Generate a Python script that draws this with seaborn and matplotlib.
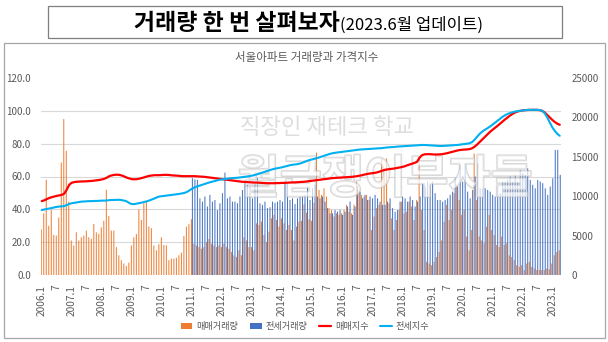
import numpy as np
import pandas as pd
import matplotlib
matplotlib.use("Agg")
import matplotlib.pyplot as plt
import matplotlib.patheffects as pe
from matplotlib.patches import Rectangle, Patch
from matplotlib.lines import Line2D
import seaborn as sns

sns.set_theme(style="white")
plt.rcParams["font.family"] = ["Noto Sans CJK KR", "DejaVu Sans"]

# ---------------- data ----------------
months = [f"{y}.{m}" for y in range(2006, 2024) for m in range(1, 13)][:208]  # 2006.1 .. 2023.4

sale_volume = [
    5790, 7830, 12080, 6250, 8250, 5080, 5000, 7290, 14270, 19790, 15750, 9310,
    4380, 3750, 5420, 4380, 4790, 5000, 5630, 4790, 4580, 6460, 5420, 5210,
    6040, 6880, 10830, 7500, 5630, 5630, 3540, 2500, 1880, 1460, 1150, 1560,
    3750, 4790, 5210, 8330, 6980, 9100, 9310, 6150, 5940, 3750, 3130, 3900,
    4790, 3810, 3750, 1880, 2080, 2080, 2190, 2500, 2830, 4960, 6150, 6460,
    7080, 3960, 3750, 3540, 3330, 3540, 4170, 4580, 3960, 3750, 3540, 3750,
    3540, 3960, 3540, 3330, 2920, 2500, 2290, 3130, 2500, 4790, 4380, 3540,
    3540, 3130, 6560, 6350, 6770, 5080, 4170, 5500, 7190, 7630, 6980, 6150,
    7190, 6560, 5710, 6350, 5710, 4380, 6150, 6770,
    6880, 8960, 7920, 7080, 6880, 9170, 15540, 10790, 10170, 11000, 9960, 8480,
    8250, 7420, 7830, 7630, 7830, 8250, 8900, 8040, 7830, 8900, 11850, 10790,
    10170, 9960, 10170, 9520, 5710, 7420, 8480, 8900, 14790, 13330, 14790, 9100,
    7190, 5710, 6980, 8250, 9310, 7830, 8040, 9310, 8690, 6980, 9520, 14790,
    8250, 5710, 1670, 1460, 1250,
    1670, 2290, 2920, 4380, 6770, 8900, 6980, 8250, 10380, 11440, 9520, 7630,
    8250, 4880, 3130, 5710, 15420, 9520, 4880, 4380, 4020, 6150, 7630, 5710,
    5080, 3810, 3540, 4880, 3810, 4020, 2500, 2290, 1880, 1250, 1040, 1250,
    630, 1460, 1670, 1040, 830, 630, 630, 630, 630, 830, 730, 1460,
    2500, 2920, 3130,
]

jeonse_volume = [np.nan] * 60 + [
    12290, 12150, 12080, 9730, 9310, 9960, 8690, 10170, 9310, 9520, 8250, 9100,
    10380, 13000, 9730, 9960, 9310, 9310, 9100, 9960, 10790, 11650, 11440, 11230,
    9730, 11650, 12290, 9100, 8900, 9310, 8480, 8600, 9310, 9170, 9310, 9520,
    9310, 11850, 11650, 9520, 9730, 9020, 9730, 9960,
    10000, 10170, 11230, 9520, 11000, 11440, 9960, 9730, 9960, 9310, 8480, 7830,
    7830, 8250, 8040, 8250, 7630, 8040, 8690, 9310, 7630, 8690, 11230, 10580,
    9730, 10170, 9520, 9960, 9730, 10170, 9730, 9310, 8900, 8900, 9310, 9730,
    8480, 8040, 8250, 9310, 9960, 9730, 9310, 9960, 9520, 8690, 9310, 9960,
    11650, 11230, 11850, 11440, 11850,
    10380, 9520, 9520, 9310, 9520, 9730, 10170, 10580, 12270, 11230, 13960, 11850,
    14170, 10580, 9730, 10790, 12500, 14170, 11000, 11000, 11000, 10790, 10580, 10170,
    9960, 11230, 10380, 11850, 11850, 12060, 12500, 11850, 12710, 11850, 13330, 12900,
    12710, 13540, 12060, 11440, 11000, 12060, 11850, 11650, 11000, 10170, 11230, 12270,
    15880, 15880, 12710,
]

sale_index = [
    45.0, 45.5, 46.2, 46.9, 47.4, 47.8, 48.2, 48.5, 48.8, 49.6, 52.0, 55.0,
    56.2, 56.6, 56.8, 56.9, 57.0, 57.0, 57.1, 57.2, 57.3, 57.5, 57.7, 57.9,
    58.2, 58.6, 59.3, 60.2, 60.7, 61.0, 61.1, 61.0, 60.6, 60.0, 59.3, 58.8,
    58.4, 58.3, 58.4, 58.7, 59.1, 59.5, 60.0, 60.4, 60.6, 60.8, 60.8, 60.8,
    60.9, 61.0, 61.0, 60.9, 60.7, 60.6, 60.5, 60.4, 60.2, 60.2, 60.2, 60.2,
    60.2, 60.2, 60.1, 60.0, 59.9, 59.8, 59.6, 59.4, 59.2, 59.0, 58.8, 58.6,
    58.4, 58.2, 58.0, 57.8, 57.6, 57.4, 57.2, 57.0, 56.8, 56.7, 56.6, 56.5,
    56.4, 56.3, 56.3, 56.2, 56.1, 56.0, 55.9, 55.9, 55.9, 55.9, 56.0, 56.0,
    56.1, 56.1, 56.2, 56.3, 56.4, 56.4, 56.5, 56.6, 56.7, 56.8, 57.0, 57.2,
    57.4, 57.6, 57.8, 58.0, 58.2, 58.4, 58.6, 58.8, 59.0, 59.1, 59.2, 59.3,
    59.4, 59.5, 59.6, 59.7, 59.8, 60.0, 60.2, 60.5, 60.8, 61.2, 61.5, 61.8,
    62.0, 62.2, 62.5, 63.0, 63.5, 64.0, 64.3, 64.5, 64.7, 64.9, 65.2, 65.5,
    65.8, 66.2, 66.8, 67.3, 67.8, 68.3, 69.0, 71.5, 73.0, 73.5, 73.6, 73.6,
    73.5, 73.4, 73.4, 73.5, 73.6, 73.9, 74.2, 74.6, 75.0, 75.4, 75.8, 76.1,
    76.3, 76.4, 76.5, 76.7, 77.2, 78.2, 79.5, 81.0, 82.5, 84.0, 85.5, 87.0,
    88.3, 89.5, 90.7, 92.0, 93.3, 94.6, 95.8, 97.0, 98.0, 98.9, 99.5, 99.9,
    100.2, 100.4, 100.5, 100.6, 100.6, 100.6, 100.6, 100.4, 100.0, 99.0, 97.5, 96.0,
    94.5, 93.2, 92.2, 91.5,
]

jeonse_index = [
    39.6, 39.9, 40.2, 40.5, 40.8, 41.2, 41.5, 41.7, 41.8, 42.0, 42.6, 43.3,
    43.7, 44.0, 44.2, 44.5, 44.7, 44.8, 44.9, 45.0, 45.0, 45.1, 45.1, 45.2,
    45.3, 45.3, 45.4, 45.6, 45.7, 45.7, 45.8, 45.8, 45.6, 45.3, 44.8, 43.8,
    43.2, 43.2, 43.5, 43.8, 44.1, 44.5, 44.9, 45.4, 46.0, 46.6, 47.3, 47.8,
    48.0, 48.2, 48.4, 48.6, 48.8, 49.0, 49.2, 49.4, 49.7, 50.0, 50.6, 51.5,
    52.5, 53.3, 53.9, 54.4, 54.9, 55.4, 55.9, 56.4, 56.8, 57.2, 57.6, 58.0,
    58.2, 58.4, 58.6, 58.8, 59.0, 59.1, 59.2, 59.4, 59.6, 59.8, 60.0, 60.2,
    60.5, 60.9, 61.3, 61.8, 62.3, 62.8, 63.3, 63.8, 64.3, 64.7, 65.0, 65.3,
    65.6, 66.0, 66.4, 66.8, 67.1, 67.3, 67.5, 67.8, 68.3, 68.9, 69.5, 70.0,
    70.4, 70.8, 71.2, 71.7, 72.2, 72.7, 73.2, 73.7, 74.1, 74.4, 74.6, 74.8,
    75.0, 75.2, 75.4, 75.6, 75.8, 76.0, 76.2, 76.4, 76.5, 76.6, 76.7, 76.8,
    76.9, 77.0, 77.1, 77.2, 77.3, 77.5, 77.7, 77.8, 77.9, 78.0, 78.2, 78.3,
    78.4, 78.5, 78.6, 78.7, 78.8, 78.9, 79.0, 79.1, 79.2, 79.2, 79.1, 79.0,
    78.9, 78.8, 78.7, 78.6, 78.6, 78.7, 78.8, 78.9, 79.0, 79.1, 79.2, 79.4,
    79.6, 79.8, 80.0, 80.3, 81.0, 82.5, 84.3, 86.0, 87.3, 88.4, 89.3, 90.3,
    91.4, 92.6, 93.8, 95.0, 96.2, 97.2, 98.0, 98.6, 99.1, 99.5, 99.8, 100.0,
    100.2, 100.4, 100.5, 100.6, 100.6, 100.6, 100.6, 100.5, 100.0, 98.5, 96.0, 93.0,
    90.0, 87.8, 86.0, 84.8,
]

series_names = ["매매거래량", "전세거래량", "매매지수", "전세지수"]
left_ticks = [0, 20, 40, 60, 80, 100, 120]
right_ticks = [0, 5000, 10000, 15000, 20000, 25000]

C_ORANGE = "#ED7D31"
C_BLUE = "#4472C4"
C_RED = "#FF0000"
C_CYAN = "#00B0F0"
C_TEXT = "#595959"

# ---------------- figure ----------------
W, H = 608, 342
fig = plt.figure(figsize=(W / 100, H / 100), dpi=100)
fig.patch.set_facecolor("white")

def fx(px):
    return px / W

def fy(py):
    return 1 - py / H

ax_b = fig.add_axes([fx(40.5), fy(275), 520.5 / W, 197 / H])

n = len(months)
df = pd.DataFrame({
    "month": months * 2,
    "volume": sale_volume + jeonse_volume,
    "series": [series_names[0]] * n + [series_names[1]] * n,
})
sns.barplot(data=df, x="month", y="volume", hue="series", order=months,
            hue_order=series_names[:2], palette=[C_ORANGE, C_BLUE],
            width=0.8, errorbar=None, saturation=1, linewidth=0,
            legend=False, ax=ax_b)
for p in ax_b.patches:
    p.set_snap(False)
    p.set_antialiased(True)

# line axis (twin)
ax_l = ax_b.twinx()
x_pos = np.arange(n)
sns.lineplot(x=x_pos, y=sale_index, ax=ax_l, color=C_RED, linewidth=1.6)
sns.lineplot(x=x_pos, y=jeonse_index, ax=ax_l, color=C_CYAN, linewidth=1.5)

# bar axis: right side, 0..25000
ax_b.set_ylim(0, 25000)
ax_b.set_xlim(-0.5, n - 0.5)
ax_b.yaxis.tick_right()
ax_b.yaxis.set_label_position("right")
ax_b.set_yticks(right_ticks)
ax_b.set_yticklabels([str(v) for v in right_ticks])
ax_b.set_yticks(np.linspace(0, 25000, len(left_ticks)), minor=True)
ax_b.grid(False)
ax_b.grid(True, which="minor", axis="y", color="#D9D9D9", linewidth=0.8)
ax_b.set_axisbelow(True)
ax_b.tick_params(axis="y", which="both", length=0, pad=7.5, labelsize=7, labelcolor=C_TEXT,
                 left=False, labelleft=False, right=True, labelright=True)
ax_b.set_xlabel("")
ax_b.set_ylabel("")
xt = list(range(0, n, 6))
ax_b.set_xticks(xt)
ax_b.set_xticklabels([months[i] if months[i].endswith(".1") else months[i].split(".")[1] for i in xt],
                     rotation=90)
ax_b.tick_params(axis="x", length=0, pad=7, labelsize=7.3, labelcolor=C_TEXT)
for s in ax_b.spines.values():
    s.set_visible(False)

# watermark between bars and lines
ax_b.text(fx(327), fy(128), "직장인 재테크 학교", transform=fig.transFigure,
          ha="center", va="center", fontsize=16, color="#BFBFBF", alpha=0.5, zorder=5)
ax_b.text(fx(385), fy(180), "월급쟁이부자들", transform=fig.transFigure,
          ha="center", va="center", fontsize=33, fontweight="bold",
          color=(1, 1, 1, 0.45), zorder=5,
          path_effects=[pe.withStroke(linewidth=1.4, foreground=(0.72, 0.72, 0.72, 0.55))])

# line axis: left side, 0..120
ax_l.set_ylim(0, 120)
ax_l.set_xlim(-0.5, n - 0.5)
ax_l.yaxis.tick_left()
ax_l.yaxis.set_label_position("left")
ax_l.set_yticks(left_ticks)
ax_l.set_yticklabels([f"{v:.1f}" for v in left_ticks])
ax_l.tick_params(axis="y", length=0, pad=7, labelsize=7, labelcolor=C_TEXT,
                 left=True, labelleft=True, right=False, labelright=False)
ax_l.set_ylabel("")
ax_l.grid(False)
for s in ax_l.spines.values():
    s.set_visible(False)

# boxes
fig.add_artist(Rectangle((fx(48), fy(38)), (562 - 48) / W, 32 / H, transform=fig.transFigure,
                         fill=False, edgecolor="#7F7F7F", linewidth=0.9))
fig.add_artist(Rectangle((fx(3.5), fy(338)), (605 - 3.5) / W, (338 - 43) / H, transform=fig.transFigure,
                         fill=False, edgecolor="#A6A6A6", linewidth=0.9))

# title (two parts, baseline aligned)
t1 = fig.text(0, fy(30), "거래량 한 번 살펴보자", fontsize=16.5, fontweight="bold",
              color="black", va="baseline", ha="left")
t2 = fig.text(0, fy(30), "(2023.6월 업데이트)", fontsize=12, color="black",
              va="baseline", ha="left")
fig.canvas.draw()
r = fig.canvas.get_renderer()
w1 = t1.get_window_extent(r).width
w2 = t2.get_window_extent(r).width
start = 308 - (w1 + w2) / 2
t1.set_x(fx(start))
t2.set_x(fx(start + w1 + 1))

fig.text(fx(307), fy(57), "서울아파트 거래량과 가격지수", ha="center", va="center",
         fontsize=8.3, color=C_TEXT)

handles = [Patch(facecolor=C_ORANGE, edgecolor="none"),
           Patch(facecolor=C_BLUE, edgecolor="none"),
           Line2D([], [], color=C_RED, linewidth=1.6),
           Line2D([], [], color=C_CYAN, linewidth=1.5)]
fig.legend(handles, series_names, loc="center", bbox_to_anchor=(fx(305), fy(327)),
           ncol=4, frameon=False, fontsize=6.6, labelcolor=C_TEXT,
           handlelength=1.3, handleheight=0.6, handletextpad=0.4, columnspacing=1.3)

fig.savefig("out.png", dpi=100, facecolor="white")
